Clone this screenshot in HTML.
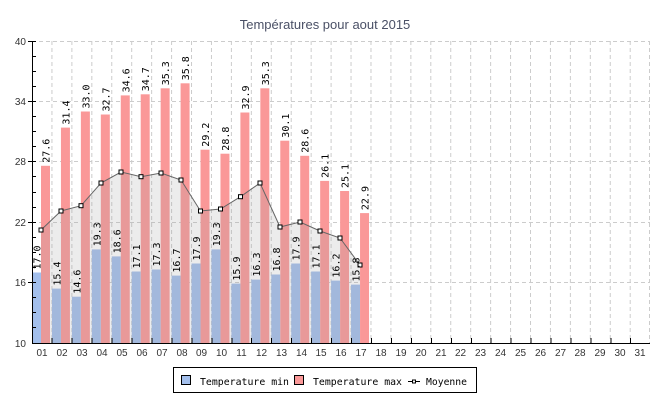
<!DOCTYPE html>
<html><head><meta charset="utf-8"><style>
html,body{margin:0;padding:0;background:#fff;width:650px;height:400px;overflow:hidden}
svg{display:block}
.t{font-family:"Liberation Sans",sans-serif;font-size:10px;fill:#333}
.l{font-family:"DejaVu Sans Mono","Liberation Mono",monospace;font-size:10px;fill:#000}
.lg{font-family:"DejaVu Sans Mono","Liberation Mono",monospace;font-size:9.8px;fill:#000}
.g{stroke:#ccc;stroke-dasharray:4,3;stroke-width:1}
</style></head><body>
<svg width="650" height="400" xmlns="http://www.w3.org/2000/svg">
<text x="325" y="29" text-anchor="middle" style="font-family:'Liberation Sans',sans-serif;font-size:13px;fill:#4a5066">Températures pour aout 2015</text>
<g class="g">
<line x1="32" y1="41.5" x2="650" y2="41.5"/><line x1="32" y1="101.5" x2="650" y2="101.5"/><line x1="32" y1="161.5" x2="650" y2="161.5"/><line x1="32" y1="222.5" x2="650" y2="222.5"/><line x1="32" y1="282.5" x2="650" y2="282.5"/>
<line x1="51.94" y1="41" x2="51.94" y2="343"/><line x1="71.88" y1="41" x2="71.88" y2="343"/><line x1="91.82" y1="41" x2="91.82" y2="343"/><line x1="111.76" y1="41" x2="111.76" y2="343"/><line x1="131.7" y1="41" x2="131.7" y2="343"/><line x1="151.64" y1="41" x2="151.64" y2="343"/><line x1="171.58" y1="41" x2="171.58" y2="343"/><line x1="191.52" y1="41" x2="191.52" y2="343"/><line x1="211.46" y1="41" x2="211.46" y2="343"/><line x1="231.4" y1="41" x2="231.4" y2="343"/><line x1="251.34" y1="41" x2="251.34" y2="343"/><line x1="271.28" y1="41" x2="271.28" y2="343"/><line x1="291.22" y1="41" x2="291.22" y2="343"/><line x1="311.16" y1="41" x2="311.16" y2="343"/><line x1="331.1" y1="41" x2="331.1" y2="343"/><line x1="351.04" y1="41" x2="351.04" y2="343"/><line x1="370.98" y1="41" x2="370.98" y2="343"/><line x1="390.92" y1="41" x2="390.92" y2="343"/><line x1="410.86" y1="41" x2="410.86" y2="343"/><line x1="430.8" y1="41" x2="430.8" y2="343"/><line x1="450.74" y1="41" x2="450.74" y2="343"/><line x1="470.68" y1="41" x2="470.68" y2="343"/><line x1="490.62" y1="41" x2="490.62" y2="343"/><line x1="510.56" y1="41" x2="510.56" y2="343"/><line x1="530.5" y1="41" x2="530.5" y2="343"/><line x1="550.44" y1="41" x2="550.44" y2="343"/><line x1="570.38" y1="41" x2="570.38" y2="343"/><line x1="590.32" y1="41" x2="590.32" y2="343"/><line x1="610.26" y1="41" x2="610.26" y2="343"/><line x1="630.2" y1="41" x2="630.2" y2="343"/><line x1="649.5" y1="41" x2="649.5" y2="343"/>
</g>
<g fill="#a3bfec">
<rect x="32" y="272.5" width="9" height="70.5"/><rect x="51.94" y="288.6" width="9" height="54.4"/><rect x="71.88" y="296.7" width="9" height="46.3"/><rect x="91.82" y="249.4" width="9" height="93.6"/><rect x="111.76" y="256.4" width="9" height="86.6"/><rect x="131.7" y="271.5" width="9" height="71.5"/><rect x="151.64" y="269.5" width="9" height="73.5"/><rect x="171.58" y="275.6" width="9" height="67.4"/><rect x="191.52" y="263.5" width="9" height="79.5"/><rect x="211.46" y="249.4" width="9" height="93.6"/><rect x="231.4" y="283.6" width="9" height="59.4"/><rect x="251.34" y="279.6" width="9" height="63.4"/><rect x="271.28" y="274.5" width="9" height="68.5"/><rect x="291.22" y="263.5" width="9" height="79.5"/><rect x="311.16" y="271.5" width="9" height="71.5"/><rect x="331.1" y="280.6" width="9" height="62.4"/><rect x="351.04" y="284.6" width="9" height="58.4"/>
</g>
<g fill="#fa9898">
<rect x="41" y="165.8" width="9" height="177.2"/><rect x="60.94" y="127.6" width="9" height="215.4"/><rect x="80.88" y="111.5" width="9" height="231.5"/><rect x="100.82" y="114.5" width="9" height="228.5"/><rect x="120.76" y="95.4" width="9" height="247.6"/><rect x="140.7" y="94.3" width="9" height="248.7"/><rect x="160.64" y="88.3" width="9" height="254.7"/><rect x="180.58" y="83.3" width="9" height="259.7"/><rect x="200.52" y="149.7" width="9" height="193.3"/><rect x="220.46" y="153.7" width="9" height="189.3"/><rect x="240.4" y="112.5" width="9" height="230.5"/><rect x="260.34" y="88.3" width="9" height="254.7"/><rect x="280.28" y="140.7" width="9" height="202.3"/><rect x="300.22" y="155.8" width="9" height="187.2"/><rect x="320.16" y="180.9" width="9" height="162.1"/><rect x="340.1" y="191" width="9" height="152"/><rect x="360.04" y="213.1" width="9" height="129.9"/>
</g>
<polygon fill="rgba(160,160,160,0.2)" points="41,343 41,230 61,211 81,205.7 101,183 121,172 141,176.7 161,173 181,180 200.5,211 220.5,209 240.5,196.7 260,183 280,227 300,222 320,231 340,238 360,265 360,343"/>
<polyline fill="none" stroke="#666" stroke-width="1" points="41,230 61,211 81,205.7 101,183 121,172 141,176.7 161,173 181,180 200.5,211 220.5,209 240.5,196.7 260,183 280,227 300,222 320,231 340,238 360,265"/>
<g fill="#fff" stroke="#000" stroke-width="1">
<rect x="39" y="228" width="4" height="4"/><rect x="59" y="209" width="4" height="4"/><rect x="79" y="203.7" width="4" height="4"/><rect x="99" y="181" width="4" height="4"/><rect x="119" y="170" width="4" height="4"/><rect x="139" y="174.7" width="4" height="4"/><rect x="159" y="171" width="4" height="4"/><rect x="179" y="178" width="4" height="4"/><rect x="198.5" y="209" width="4" height="4"/><rect x="218.5" y="207" width="4" height="4"/><rect x="238.5" y="194.7" width="4" height="4"/><rect x="258" y="181" width="4" height="4"/><rect x="278" y="225" width="4" height="4"/><rect x="298" y="220" width="4" height="4"/><rect x="318" y="229" width="4" height="4"/><rect x="338" y="236" width="4" height="4"/><rect x="358" y="263" width="4" height="4"/>
</g>
<g class="l">
<text transform="translate(40.5,269.5) rotate(-90)">17.0</text>
<text transform="translate(60.44,285.6) rotate(-90)">15.4</text>
<text transform="translate(80.38,293.7) rotate(-90)">14.6</text>
<text transform="translate(100.32,246.4) rotate(-90)">19.3</text>
<text transform="translate(120.26,253.4) rotate(-90)">18.6</text>
<text transform="translate(140.2,268.5) rotate(-90)">17.1</text>
<text transform="translate(160.14,266.5) rotate(-90)">17.3</text>
<text transform="translate(180.08,272.6) rotate(-90)">16.7</text>
<text transform="translate(200.02,260.5) rotate(-90)">17.9</text>
<text transform="translate(219.96,246.4) rotate(-90)">19.3</text>
<text transform="translate(239.9,280.6) rotate(-90)">15.9</text>
<text transform="translate(259.84,276.6) rotate(-90)">16.3</text>
<text transform="translate(279.78,271.5) rotate(-90)">16.8</text>
<text transform="translate(299.72,260.5) rotate(-90)">17.9</text>
<text transform="translate(319.66,268.5) rotate(-90)">17.1</text>
<text transform="translate(339.6,277.6) rotate(-90)">16.2</text>
<text transform="translate(359.54,281.6) rotate(-90)">15.8</text>
<text transform="translate(49.5,162.8) rotate(-90)">27.6</text>
<text transform="translate(69.44,124.6) rotate(-90)">31.4</text>
<text transform="translate(89.38,108.5) rotate(-90)">33.0</text>
<text transform="translate(109.32,111.5) rotate(-90)">32.7</text>
<text transform="translate(129.26,92.4) rotate(-90)">34.6</text>
<text transform="translate(149.2,91.3) rotate(-90)">34.7</text>
<text transform="translate(169.14,85.3) rotate(-90)">35.3</text>
<text transform="translate(189.08,80.3) rotate(-90)">35.8</text>
<text transform="translate(209.02,146.7) rotate(-90)">29.2</text>
<text transform="translate(228.96,150.7) rotate(-90)">28.8</text>
<text transform="translate(248.9,109.5) rotate(-90)">32.9</text>
<text transform="translate(268.84,85.3) rotate(-90)">35.3</text>
<text transform="translate(288.78,137.7) rotate(-90)">30.1</text>
<text transform="translate(308.72,152.8) rotate(-90)">28.6</text>
<text transform="translate(328.66,177.9) rotate(-90)">26.1</text>
<text transform="translate(348.6,188) rotate(-90)">25.1</text>
<text transform="translate(368.54,210.1) rotate(-90)">22.9</text>
</g>
<g stroke="#000" stroke-width="1">
<line x1="32.5" y1="41" x2="32.5" y2="343.5"/>
<line x1="32" y1="343.5" x2="650" y2="343.5"/>
<path d="M28 41.5H36M32 56.5H36M32 71.5H36M32 86.5H36M28 101.5H36M32 116.5H36M32 131.5H36M32 146.5H36M28 161.5H36M32 176.5H36M32 192.5H36M32 207.5H36M28 222.5H36M32 237.5H36M32 252.5H36M32 267.5H36M28 282.5H36M32 297.5H36M32 312.5H36M32 327.5H36"/>
<path d="M52 338V343M72 338V343M92 338V343M112 338V343M132 338V343M152 338V343M172 338V343M192 338V343M212 338V343M232 338V343M251.5 338V343M271.5 338V343M291.5 338V343M311.5 338V343M331.5 338V343M351.5 338V343M371.5 338V343M391.5 338V343M411.5 338V343M431.5 338V343M451.5 338V343M471.5 338V343M491 338V343M511 338V343M531 338V343M551 338V343M571 338V343M591 338V343M611 338V343M630.5 338V343"/>
</g>
<g class="t" text-anchor="end">
<text x="26" y="45">40</text><text x="26" y="105">34</text><text x="26" y="165">28</text><text x="26" y="226">22</text><text x="26" y="286">16</text><text x="26" y="347">10</text>
</g>
<g class="t" text-anchor="middle">
<text x="42" y="356">01</text><text x="62" y="356">02</text><text x="82" y="356">03</text><text x="102" y="356">04</text><text x="122" y="356">05</text><text x="142" y="356">06</text><text x="162" y="356">07</text><text x="182" y="356">08</text><text x="201.5" y="356">09</text><text x="221.5" y="356">10</text><text x="241.5" y="356">11</text><text x="261.5" y="356">12</text><text x="281.5" y="356">13</text><text x="301.5" y="356">14</text><text x="321" y="356">15</text><text x="341" y="356">16</text><text x="361" y="356">17</text><text x="381" y="356">18</text><text x="401" y="356">19</text><text x="421" y="356">20</text><text x="441" y="356">21</text><text x="460.5" y="356">22</text><text x="480.5" y="356">23</text><text x="500.5" y="356">24</text><text x="520.5" y="356">25</text><text x="540.5" y="356">26</text><text x="560.5" y="356">27</text><text x="580" y="356">28</text><text x="600" y="356">29</text><text x="620" y="356">30</text><text x="640" y="356">31</text>
</g>
<rect x="173.5" y="367.5" width="303" height="25" fill="#fff" stroke="#000"/>
<rect x="181.5" y="375.5" width="9" height="9" fill="#a3bfec" stroke="#000"/>
<rect x="294.5" y="375.5" width="9" height="9" fill="#fa9898" stroke="#000"/>
<line x1="408" y1="381.5" x2="420" y2="381.5" stroke="#000"/>
<rect x="412.5" y="380" width="3" height="3" fill="#fff" stroke="#000"/>
<g class="lg">
<text x="200" y="385" textLength="89" lengthAdjust="spacingAndGlyphs">Temperature min</text>
<text x="313" y="385" textLength="89" lengthAdjust="spacingAndGlyphs">Temperature max</text>
<text x="426" y="385" textLength="41" lengthAdjust="spacingAndGlyphs">Moyenne</text>
</g>
</svg>
</body></html>
